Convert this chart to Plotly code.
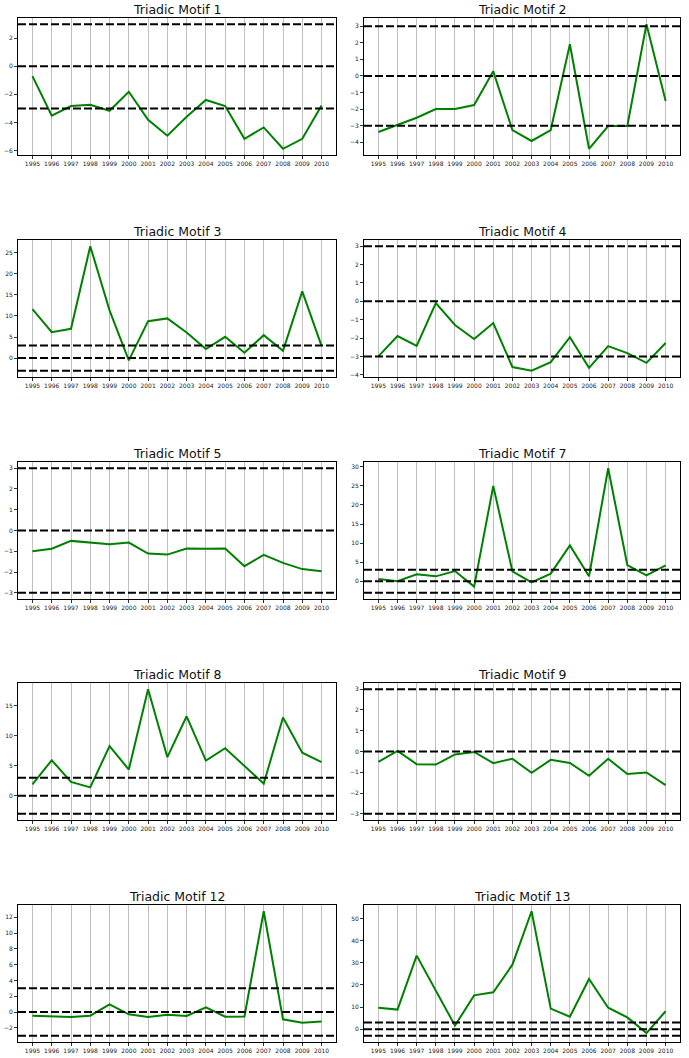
import plotly.graph_objects as go

years = list(range(1995, 2011))
titles = ["Triadic Motif 1", "Triadic Motif 2", "Triadic Motif 3", "Triadic Motif 4",
          "Triadic Motif 5", "Triadic Motif 7", "Triadic Motif 8", "Triadic Motif 9",
          "Triadic Motif 12", "Triadic Motif 13"]

motif1 = [-0.70, -3.52, -2.83, -2.74, -3.17, -1.81, -3.81, -4.95, -3.60, -2.40, -2.83, -5.17, -4.36, -5.88, -5.17, -2.79]
motif2 = [-3.38, -2.94, -2.52, -1.99, -1.99, -1.75, 0.28, -3.26, -3.92, -3.26, 1.91, -4.39, -3.02, -3.02, 3.12, -1.51]
motif3 = [11.6, 6.15, 6.94, 26.5, 11.3, -0.55, 8.75, 9.4, 6.07, 2.13, 5.05, 1.26, 5.44, 1.73, 15.8, 2.9]
motif4 = [-3.0, -1.89, -2.42, -0.09, -1.29, -2.05, -1.18, -3.58, -3.78, -3.31, -1.95, -3.62, -2.44, -2.82, -3.35, -2.27]
motif5 = [-1.0, -0.88, -0.5, -0.59, -0.66, -0.58, -1.11, -1.16, -0.87, -0.88, -0.87, -1.72, -1.17, -1.56, -1.86, -1.96]
motif7 = [0.6, 0.0, 1.83, 1.3, 2.7, -1.39, 24.96, 2.6, -0.26, 2.0, 9.39, 1.3, 29.6, 4.26, 1.57, 4.17]
motif8 = [1.9, 5.9, 2.29, 1.39, 8.25, 4.35, 17.7, 6.41, 13.2, 5.85, 7.9, 4.96, 2.0, 13.0, 7.14, 5.58]
motif9 = [-0.5, 0.03, -0.61, -0.63, -0.14, -0.02, -0.56, -0.35, -1.03, -0.4, -0.55, -1.17, -0.35, -1.08, -1.01, -1.62]
motif12 = [-0.46, -0.55, -0.63, -0.46, 0.97, -0.29, -0.63, -0.34, -0.5, 0.59, -0.59, -0.55, 12.76, -0.92, -1.34, -1.18]
motif13 = [9.73, 8.85, 33.3, 17.6, 1.6, 15.3, 16.7, 29.2, 53.4, 9.3, 5.6, 22.7, 9.7, 5.3, -1.77, 8.1]

series = [motif1, motif2, motif3, motif4, motif5, motif7, motif8, motif9, motif12, motif13]
ref_levels = [-3, 0, 3]
dticks = [2, 1, 5, 1, 1, 5, 5, 1, 2, 10]

W, H = 689, 1058
col_x = [(18, 336), (364, 680)]
row_top = [18, 240, 462, 683, 905]
row_h = 137

fig = go.Figure()
font_family = "DejaVu Sans"

for i, (vals, title) in enumerate(zip(series, titles)):
    r, c = divmod(i, 2)
    n = i + 1
    xa = "x" if n == 1 else f"x{n}"
    ya = "y" if n == 1 else f"y{n}"
    fig.add_trace(go.Scatter(x=years, y=vals, mode="lines",
                             line=dict(color="#008000", width=2),
                             xaxis=xa, yaxis=ya, showlegend=False))
    lo = min(min(vals), min(ref_levels))
    hi = max(max(vals), max(ref_levels))
    pad = 0.05 * (hi - lo)
    x0, x1 = col_x[c]
    top = row_top[r]
    bot = top + row_h
    xdom = [x0 / W, x1 / W]
    ydom = [1 - bot / H, 1 - top / H]
    fig.layout[f"xaxis{'' if n == 1 else n}"] = dict(
        domain=xdom, anchor=ya, range=[1994.25, 2010.75],
        tickmode="array", tickvals=years, ticktext=[str(y) for y in years],
        showgrid=True, gridcolor="#c0c0c0", gridwidth=1.2,
        showline=True, linecolor="black", linewidth=1, mirror=True,
        ticks="outside", ticklen=3, tickcolor="#333", zeroline=False,
        tickfont=dict(size=6, family=font_family, color="#222"), fixedrange=True)
    fig.layout[f"yaxis{'' if n == 1 else n}"] = dict(
        domain=ydom, anchor=xa, range=[lo - pad, hi + pad],
        dtick=dticks[i], tick0=0, showgrid=False, zeroline=False,
        showline=True, linecolor="black", linewidth=1, mirror=True,
        ticks="outside", ticklen=3, tickcolor="#333",
        tickfont=dict(size=6, family=font_family, color="#222"), fixedrange=True)
    for lvl in ref_levels:
        fig.add_shape(type="line", xref=f"{xa} domain", yref=ya,
                      x0=0, x1=1, y0=lvl, y1=lvl,
                      line=dict(color="black", width=2, dash="8px,3px"))
    fig.add_annotation(text=title, xref="paper", yref="paper",
                       x=(xdom[0] + xdom[1]) / 2, y=ydom[1], yshift=-1,
                       xanchor="center", yanchor="bottom", showarrow=False,
                       font=dict(size=12.5, family=font_family, color="#111"))

fig.update_layout(width=W, height=H, margin=dict(l=0, r=0, t=0, b=0),
                  paper_bgcolor="white", plot_bgcolor="white")
fig.write_html("out.html")
